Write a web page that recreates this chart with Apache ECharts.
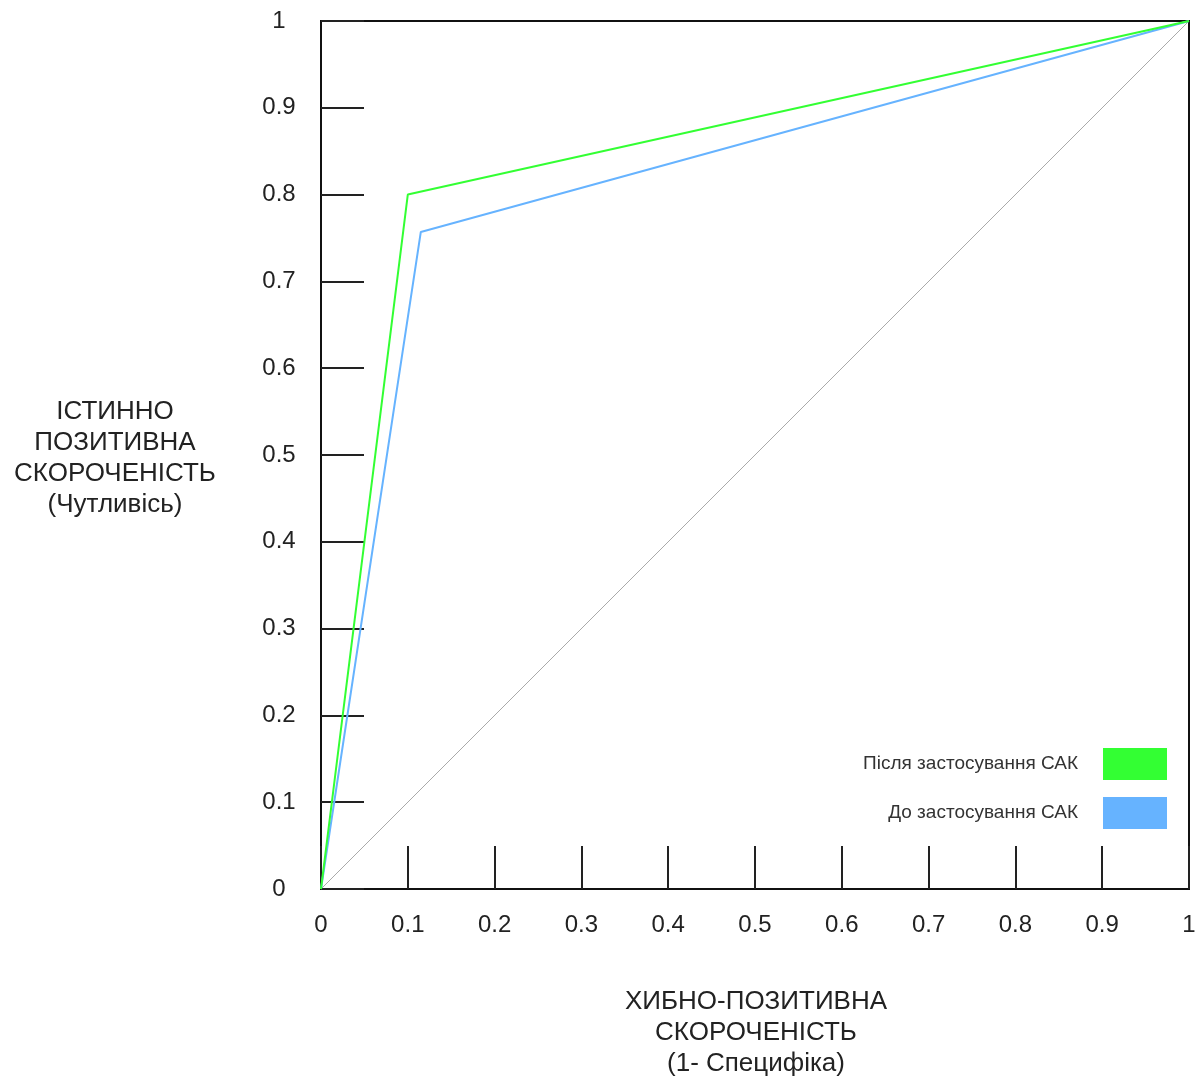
<!DOCTYPE html>
<html><head><meta charset="utf-8">
<script src="https://cdn.jsdelivr.net/npm/echarts@6/dist/echarts.min.js"></script>
<style>html,body{margin:0;padding:0;background:#fff}#c{width:1203px;height:1079px}</style>
</head><body><div id="c"></div>
<script>
const seriesNames = ['Після застосування САК', 'До застосування САК'];
const afterFPR = [0, 0.1, 1];
const afterTPR = [0, 0.8, 1];
const beforeFPR = [0, 0.115, 1];
const beforeTPR = [0, 0.757, 1];
const diagFPR = [0, 1];
const diagTPR = [0, 1];
const tickValues = [0, 0.1, 0.2, 0.3, 0.4, 0.5, 0.6, 0.7, 0.8, 0.9, 1];
const yTitle = ['ІСТИННО', 'ПОЗИТИВНА', 'СКОРОЧЕНІСТЬ', '(Чутливісь)'];
const xTitle = ['ХИБНО-ПОЗИТИВНА', 'СКОРОЧЕНІСТЬ', '(1- Специфіка)'];

const zip = (a, b) => a.map((v, i) => [v, b[i]]);
const font = 'Liberation Sans, Arial, Helvetica, sans-serif';
const chart = echarts.init(document.getElementById('c'));
const axisCommon = {
  type: 'value', min: 0, max: 1, interval: 0.1,
  axisLine: { show: true, lineStyle: { color: '#111', width: 2 } },
  axisTick: { show: true, inside: true, length: 43, lineStyle: { color: '#222', width: 2 } },
  splitLine: { show: false },
  axisLabel: {
    color: '#222', fontSize: 24, fontFamily: font,
    formatter: v => { const t = tickValues.find(x => Math.abs(x - v) < 1e-9); return t === undefined ? '' : String(t); }
  }
};
chart.setOption({
  animation: false,
  grid: { left: 321, top: 21, width: 868, height: 868, show: true, borderColor: '#111', borderWidth: 2, backgroundColor: 'transparent' },
  xAxis: Object.assign({}, axisCommon, { axisLabel: Object.assign({}, axisCommon.axisLabel, { margin: 24 }) }),
  yAxis: Object.assign({}, axisCommon, { axisLabel: Object.assign({}, axisCommon.axisLabel, { margin: 42, align: 'center', padding: [4, 0, 0, 0] }) }),
  legend: {
    data: seriesNames, right: 31, top: 743, orient: 'vertical', align: 'right',
    icon: 'rect', itemWidth: 64, itemHeight: 32, itemGap: 17,
    textStyle: { fontSize: 19, color: '#333', fontFamily: font, padding: [0, 20, 0, 0] }
  },
  graphic: [
    { type: 'text', style: { text: yTitle.join('\n'), x: 115, y: 396, textAlign: 'center', fill: '#222', font: '26px ' + font, lineHeight: 31 } },
    { type: 'text', style: { text: xTitle.join('\n'), x: 756, y: 986, textAlign: 'center', fill: '#222', font: '26px ' + font, lineHeight: 31 } }
  ],
  series: [
    { type: 'line', name: 'diag', data: zip(diagFPR, diagTPR), symbol: 'none', silent: true, lineStyle: { color: '#aaaaaa', width: 1 }, z: 1 },
    { type: 'line', name: seriesNames[1], data: zip(beforeFPR, beforeTPR), symbol: 'none', lineStyle: { color: '#66b3ff', width: 2 }, itemStyle: { color: '#66b3ff' }, z: 2 },
    { type: 'line', name: seriesNames[0], data: zip(afterFPR, afterTPR), symbol: 'none', lineStyle: { color: '#33ff33', width: 2 }, itemStyle: { color: '#33ff33' }, z: 3 }
  ]
});
</script></body></html>
